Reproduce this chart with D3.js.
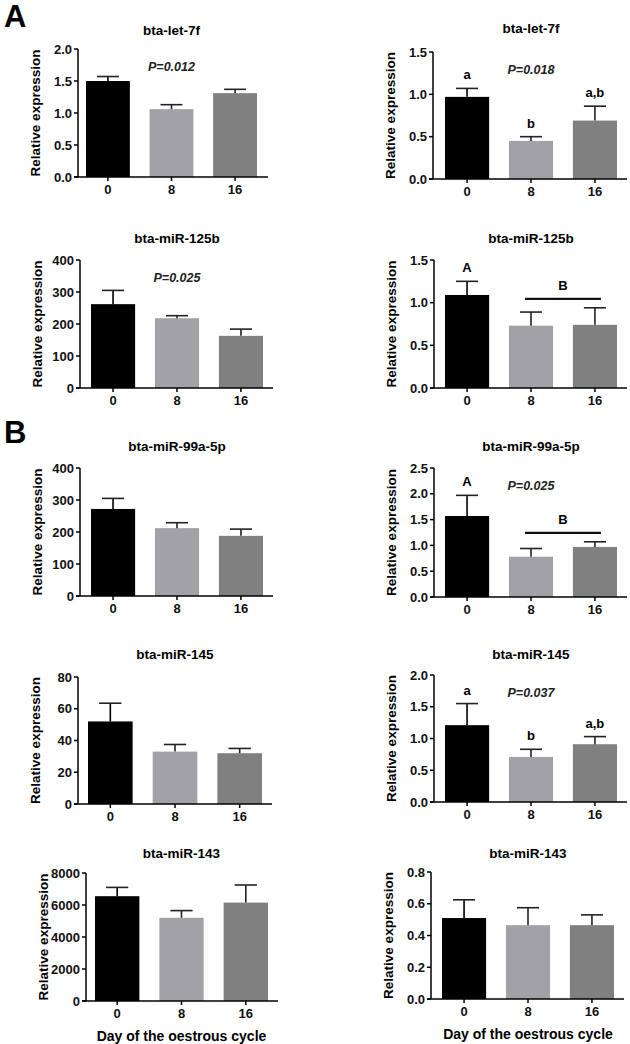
<!DOCTYPE html>
<html><head><meta charset="utf-8">
<script src="https://cdn.jsdelivr.net/npm/d3@7"></script>
<style>body{margin:0;background:#fff}svg{display:block}text{font-family:"Liberation Sans",Arial,sans-serif}</style>
</head><body>
<script>
// ---- data ----
const days = ["0", "8", "16"];
const titles = ["bta-let-7f", "bta-miR-125b", "bta-miR-99a-5p", "bta-miR-145", "bta-miR-143"];
const leftMeans = [[1.50, 1.06, 1.31], [262, 218, 163], [272, 212, 188], [52, 33, 32], [6550, 5200, 6150]];
const leftUpper = [[1.57, 1.13, 1.37], [305, 226, 184], [305, 229, 209], [63.5, 37.5, 35], [7100, 5650, 7250]];
const leftTicks = [[0, 0.5, 1, 1.5, 2], [0, 100, 200, 300, 400], [0, 100, 200, 300, 400], [0, 20, 40, 60, 80], [0, 2000, 4000, 6000, 8000]];
const leftP = ["P=0.012", "P=0.025", "", "", ""];
const rightMeans = [[0.97, 0.45, 0.69], [1.09, 0.73, 0.74], [1.57, 0.78, 0.97], [1.21, 0.71, 0.91], [0.51, 0.465, 0.465]];
const rightUpper = [[1.07, 0.50, 0.86], [1.25, 0.89, 0.94], [1.97, 0.94, 1.07], [1.55, 0.83, 1.03], [0.625, 0.575, 0.53]];
const rightTicks = [[0, 0.5, 1, 1.5], [0, 0.5, 1, 1.5], [0, 0.5, 1, 1.5, 2, 2.5], [0, 0.5, 1, 1.5, 2], [0, 0.2, 0.4, 0.6, 0.8]];
const rightP = ["P=0.018", "", "P=0.025", "P=0.037", ""];
const rightLetters = [["a", "b", "a,b"], ["A", "", ""], ["A", "", ""], ["a", "b", "a,b"], ["", "", ""]];
const groupLetter = ["", "B", "B", "", ""]; // letter over bracket spanning days 8 and 16
const yLabel = "Relative expression";
const xLabel = "Day of the oestrous cycle";
const panelTags = [{text: "A", row: 0}, {text: "B", row: 2}];
const barColors = ["#000000", "#a2a2a6", "#808080"];

// ---- layout ----
const rows = [
  {L: {ax: 78, b0: 86, b1: 257, end: 268, top: 49, bot: 177, ty: 30}, R: {ax: 433, b0: 445, b1: 617, end: 627, top: 52, bot: 179, ty: 28}},
  {L: {ax: 80, b0: 91, b1: 263, end: 273, top: 260, bot: 388, ty: 238}, R: {ax: 434, b0: 445, b1: 617, end: 627, top: 260, bot: 388, ty: 238}},
  {L: {ax: 80, b0: 91, b1: 263, end: 273, top: 468, bot: 596, ty: 446}, R: {ax: 434, b0: 445, b1: 617, end: 627, top: 468, bot: 597, ty: 446}},
  {L: {ax: 78, b0: 88, b1: 262, end: 272, top: 677, bot: 804, ty: 654}, R: {ax: 434, b0: 445, b1: 617, end: 627, top: 675, bot: 802, ty: 654}},
  {L: {ax: 86, b0: 95, b1: 268, end: 278, top: 873, bot: 1001, ty: 853}, R: {ax: 431, b0: 442, b1: 614, end: 624, top: 872, bot: 999, ty: 853}}
];

const W = 630, H = 1044;
const svg = d3.select("body").append("svg").attr("width", W).attr("height", H);

function drawPanel(L, title, means, upper, ticks, pText, letters, gLetter, fmt, showX) {
  const g = svg.append("g");
  const x = d3.scaleBand().domain(days).range([L.b0, L.b1]).paddingInner(0.31).paddingOuter(0);
  const y = d3.scaleLinear().domain([ticks[0], ticks[ticks.length - 1]]).range([L.bot, L.top]);
  const cx = (L.b0 + L.b1) / 2;
  // title
  g.append("text").attr("x", cx).attr("y", L.ty + 5).attr("text-anchor", "middle")
    .attr("font-size", 13.5).attr("font-weight", "bold").text(title);
  // bars
  g.selectAll("rect.bar").data(means).join("rect").attr("class", "bar")
    .attr("x", (d, i) => x(days[i])).attr("width", x.bandwidth())
    .attr("y", d => y(d)).attr("height", d => L.bot - y(d))
    .attr("fill", (d, i) => barColors[i]);
  // error bars (upper)
  const cap = x.bandwidth() / 2;
  upper.forEach((u, i) => {
    const xc = x(days[i]) + x.bandwidth() / 2;
    g.append("line").attr("x1", xc).attr("x2", xc).attr("y1", y(means[i])).attr("y2", y(u))
      .attr("stroke", i === 0 ? "#000" : "#222").attr("stroke-width", 1.6);
    g.append("line").attr("x1", xc - cap / 2).attr("x2", xc + cap / 2).attr("y1", y(u)).attr("y2", y(u))
      .attr("stroke", "#222").attr("stroke-width", 1.6);
    if (letters[i]) {
      g.append("text").attr("x", xc).attr("y", y(u) - 9).attr("text-anchor", "middle")
        .attr("font-size", 13).attr("font-weight", "bold").text(letters[i]);
    }
  });
  if (gLetter) {
    const xa = x(days[1]) + x.bandwidth() / 2 - 6, xb = x(days[2]) + x.bandwidth() / 2 + 6;
    const ly = y(Math.max(upper[1], upper[2])) - 9;
    g.append("line").attr("x1", xa).attr("x2", xb).attr("y1", ly).attr("y2", ly)
      .attr("stroke", "#111").attr("stroke-width", 2.2);
    g.append("text").attr("x", (xa + xb) / 2).attr("y", ly - 9).attr("text-anchor", "middle")
      .attr("font-size", 13).attr("font-weight", "bold").text(gLetter);
  }
  if (pText) {
    g.append("text").attr("x", cx).attr("y", L.top + 22).attr("text-anchor", "middle")
      .attr("font-size", 12.5).attr("font-weight", "bold").attr("font-style", "italic").attr("fill", "#222").text(pText);
  }
  // y axis
  g.append("line").attr("x1", L.ax).attr("x2", L.ax).attr("y1", L.top).attr("y2", L.bot)
    .attr("stroke", "#000").attr("stroke-width", 1.5);
  ticks.forEach(t => {
    g.append("line").attr("x1", L.ax - 4).attr("x2", L.ax).attr("y1", y(t)).attr("y2", y(t))
      .attr("stroke", "#000").attr("stroke-width", 1.5);
    g.append("text").attr("x", L.ax - 6).attr("y", y(t) + 4.5).attr("text-anchor", "end")
      .attr("font-size", 13).attr("font-weight", "bold").attr("fill", "#111").text(fmt(t));
  });
  // x axis
  g.append("line").attr("x1", L.ax - 4).attr("x2", L.end).attr("y1", L.bot).attr("y2", L.bot)
    .attr("stroke", "#000").attr("stroke-width", 1.5);
  days.forEach(d => {
    const xc = x(d) + x.bandwidth() / 2;
    g.append("line").attr("x1", xc).attr("x2", xc).attr("y1", L.bot).attr("y2", L.bot + 4)
      .attr("stroke", "#000").attr("stroke-width", 1.5);
    g.append("text").attr("x", xc).attr("y", L.bot + 17).attr("text-anchor", "middle")
      .attr("font-size", 13).attr("font-weight", "bold").attr("fill", "#111").text(d);
  });
  // y label
  const lx = L.ax - 38;
  g.append("text").attr("transform", `translate(${lx},${(L.top + L.bot) / 2}) rotate(-90)`)
    .attr("text-anchor", "middle").attr("font-size", 13.5).attr("font-weight", "bold").text(yLabel);
  if (showX) {
    g.append("text").attr("x", cx).attr("y", L.bot + 40).attr("text-anchor", "middle")
      .attr("font-size", 14).attr("font-weight", "bold").text(xLabel);
  }
}

const f1 = d3.format(".1f"), f0 = d3.format("d");
rows.forEach((r, i) => {
  drawPanel(r.L, titles[i], leftMeans[i], leftUpper[i], leftTicks[i], leftP[i], ["", "", ""], "",
    i === 0 ? f1 : f0, i === 4);
  drawPanel(r.R, titles[i], rightMeans[i], rightUpper[i], rightTicks[i], rightP[i], rightLetters[i], groupLetter[i],
    f1, i === 4);
});

panelTags.forEach(p => {
  const y0 = p.row === 0 ? 27 : 443;
  svg.append("text").attr("x", 4).attr("y", y0).attr("font-size", 31).attr("font-weight", "bold").text(p.text);
});
</script>
</body></html>
